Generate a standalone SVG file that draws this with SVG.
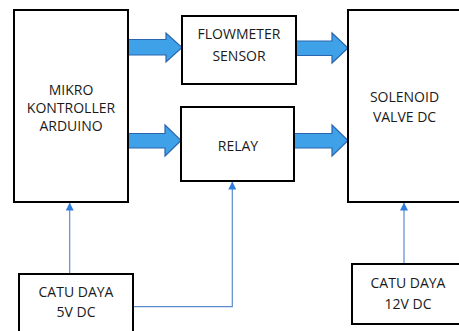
<svg xmlns="http://www.w3.org/2000/svg" width="459" height="331" viewBox="0 0 459 331">
<style>
.box{fill:#fff;stroke:#000;stroke-width:2}
.t{font-family:"Open Sans","Liberation Sans",sans-serif;font-size:14px;fill:#1a1a1a;text-anchor:middle}
.big{fill:#3fa2e8;stroke:#2a66b0;stroke-width:1.2;stroke-linejoin:miter}
.thin{fill:none;stroke:#5a8ccc;stroke-width:1.2}
</style>
<defs>
<marker id="ah" viewBox="0 0 8 8" refX="7.5" refY="4" markerWidth="8" markerHeight="8" markerUnits="userSpaceOnUse" orient="auto">
<path d="M0,0 L8,4 L0,8 Z" fill="#2f7de0"/>
</marker>
</defs>
<rect width="459" height="331" fill="#fff"/>
<g id="connectors">
<path class="big" d="M128,39.5 H166 V33 L182,47.5 L166,62 V55 H128 Z"/>
<path class="big" d="M128,133.5 H165 V125 L181,140.5 L165,156 V148 H128 Z"/>
<path class="big" d="M296,41 H332 V33 L348,48 L332,63 V55.5 H296 Z"/>
<path class="big" d="M294,133.5 H332 V125 L348,140.5 L332,156 V148 H294 Z"/>
<path class="thin" d="M69.7,274 V203" marker-end="url(#ah)"/>
<path class="thin" d="M133,306.7 H232.3 V182" marker-end="url(#ah)"/>
<path class="thin" d="M404,264 V203" marker-end="url(#ah)"/>
</g>
<g id="arduino">
<rect class="box" x="14" y="10" width="114" height="192"/>
<text class="t" x="71" y="95">MIKRO</text>
<text class="t" x="71" y="113">KONTROLLER</text>
<text class="t" x="71" y="131">ARDUINO</text>
</g>
<g id="flowmeter">
<rect class="box" x="182" y="16" width="114" height="68"/>
<text class="t" x="239" y="39">FLOWMETER</text>
<text class="t" x="239" y="61">SENSOR</text>
</g>
<g id="relay">
<rect class="box" x="181" y="107" width="113" height="74"/>
<text class="t" x="238" y="151">RELAY</text>
</g>
<g id="solenoid">
<rect class="box" x="348" y="10" width="130" height="192"/>
<text class="t" x="404.5" y="102">SOLENOID</text>
<text class="t" x="404.5" y="122">VALVE DC</text>
</g>
<g id="catu5v">
<rect class="box" x="19" y="274" width="114" height="70"/>
<text class="t" x="76" y="297">CATU DAYA</text>
<text class="t" x="76" y="317">5V DC</text>
</g>
<g id="catu12v">
<rect class="box" x="352" y="264" width="130" height="60"/>
<text class="t" x="408" y="288">CATU DAYA</text>
<text class="t" x="408" y="309">12V DC</text>
</g>
</svg>
